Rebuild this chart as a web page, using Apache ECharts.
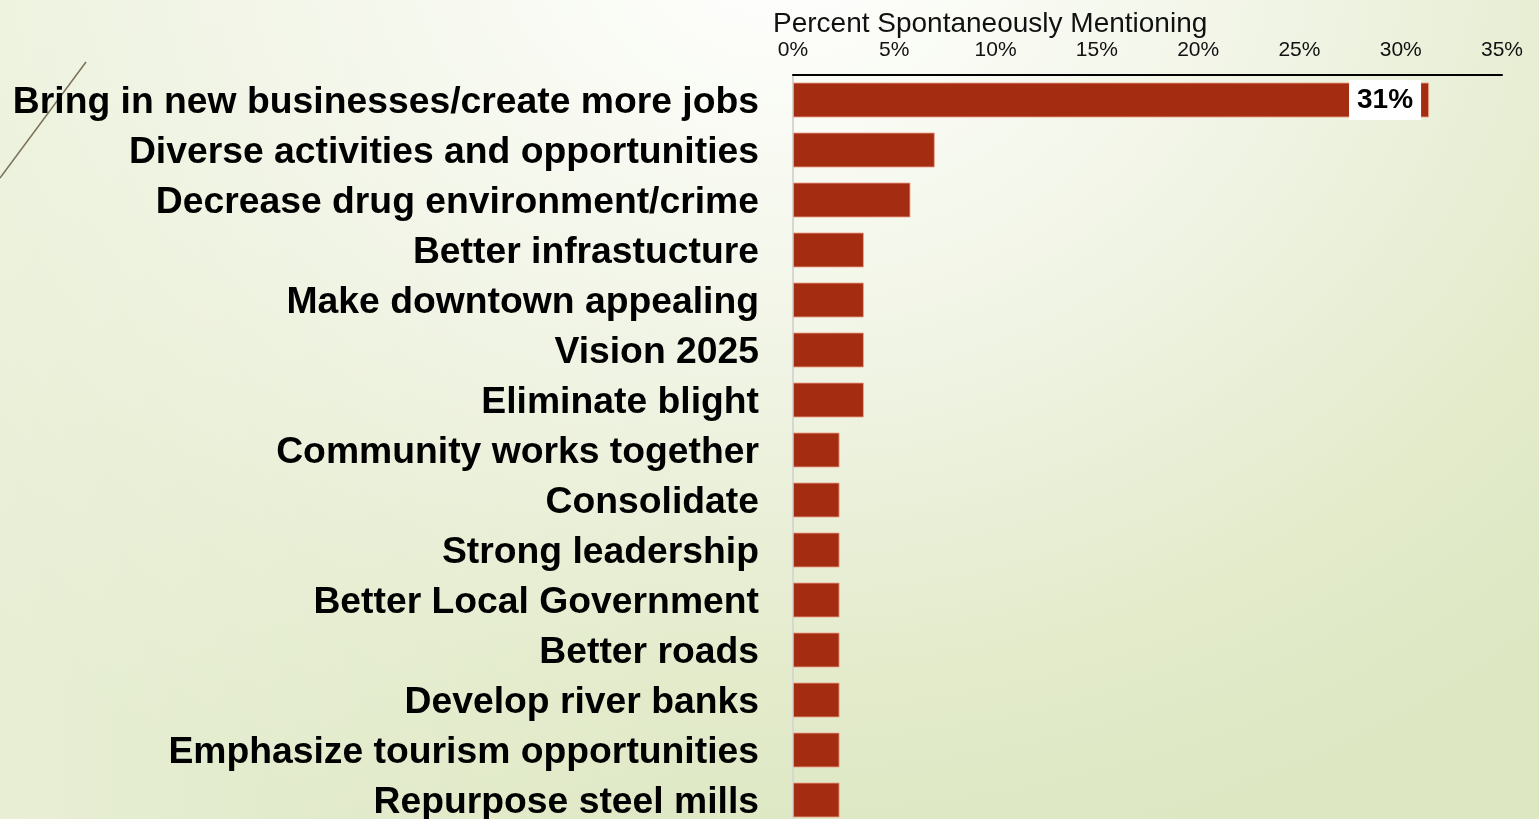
<!DOCTYPE html>
<html>
<head>
<meta charset="utf-8">
<title>Percent Spontaneously Mentioning</title>
<script src="https://cdn.jsdelivr.net/npm/echarts@6/dist/echarts.min.js"></script>
<style>
  html, body { margin: 0; padding: 0; width: 100%; height: 100%; overflow: hidden; }
  body {
    background:
      linear-gradient(90deg, rgba(255,255,255,0.3) 0%, rgba(255,255,255,0) 45%),
      radial-gradient(ellipse 1150px 950px at 780px -60px,
        #ffffff 0%, #f9fbf4 20%, #eff3e2 48%, #e3ebcb 78%, #dde7c2 100%);
  }
  /* the plot runs a little past the bottom edge of the window */
  #chart { width: 1539px; height: 830px; }
</style>
</head>
<body>
<div id="chart"></div>
<script>
// Improvement ideas, share of respondents mentioning each one
const categories = [
  'Bring in new businesses/create more jobs',
  'Diverse activities and opportunities',
  'Decrease drug environment/crime',
  'Better infrastucture',
  'Make downtown appealing',
  'Vision 2025',
  'Eliminate blight',
  'Community works together',
  'Consolidate',
  'Strong leadership',
  'Better Local Government',
  'Better roads',
  'Develop river banks',
  'Emphasize tourism opportunities',
  'Repurpose steel mills'
];
const percents = [31.4, 7.0, 5.8, 3.5, 3.5, 3.5, 3.5, 2.3, 2.3, 2.3, 2.3, 2.3, 2.3, 2.3, 2.3];
const axisTitle = 'Percent Spontaneously Mentioning';
const labelledIndex = 0; // only the leading answer carries a value label

const chart = echarts.init(document.getElementById('chart'), null, { renderer: 'canvas' });

const barData = percents.map((v, i) => i === labelledIndex
  ? { value: v, label: { show: true } }
  : v);

chart.setOption({
  backgroundColor: 'transparent',
  animation: false,
  title: {
    text: axisTitle,
    left: 768,
    top: 5,
    textStyle: {
      fontFamily: 'Liberation Sans, Arial, sans-serif',
      fontWeight: 'normal',
      fontSize: 28,
      color: '#111'
    }
  },
  graphic: [{
    type: 'line',
    shape: { x1: 86, y1: 62, x2: 0, y2: 178 },
    style: { stroke: '#7b7058', lineWidth: 1.5 },
    silent: true
  }],
  grid: { left: 793, right: 37, top: 75, height: 750, containLabel: false },
  xAxis: {
    type: 'value',
    position: 'top',
    min: 0,
    max: 35,
    interval: 5,
    axisLine: { show: true, lineStyle: { color: '#000', width: 2 } },
    axisTick: { show: false },
    splitLine: { show: false },
    axisLabel: {
      formatter: '{value}%',
      fontFamily: 'Liberation Sans, Arial, sans-serif',
      fontSize: 21,
      color: '#111',
      margin: 14
    }
  },
  yAxis: {
    type: 'category',
    inverse: true,
    data: categories,
    axisLine: { show: true, lineStyle: { color: '#d6d6d2', width: 2 } },
    axisTick: { show: false },
    axisLabel: {
      margin: 34,
      formatter: v => '{c|' + v + '}',
      rich: {
        c: {
          fontFamily: 'Liberation Sans, Arial, sans-serif',
          fontWeight: 'bold',
          fontSize: 37.3,
          color: '#000',
          padding: [6, 0, 0, 0]
        }
      }
    }
  },
  series: [{
    type: 'bar',
    data: barData,
    barWidth: 35,
    itemStyle: {
      color: '#a42d11',
      borderColor: 'rgba(236,160,140,0.85)',
      borderWidth: 1
    },
    label: {
      show: false,
      position: 'insideRight',
      distance: 8,
      formatter: p => Math.round(p.value) + '%',
      fontFamily: 'Liberation Sans, Arial, sans-serif',
      fontWeight: 'bold',
      fontSize: 28,
      color: '#000',
      backgroundColor: '#ffffff',
      padding: [8, 8, 4, 8]
    }
  }]
});
</script>
</body>
</html>
